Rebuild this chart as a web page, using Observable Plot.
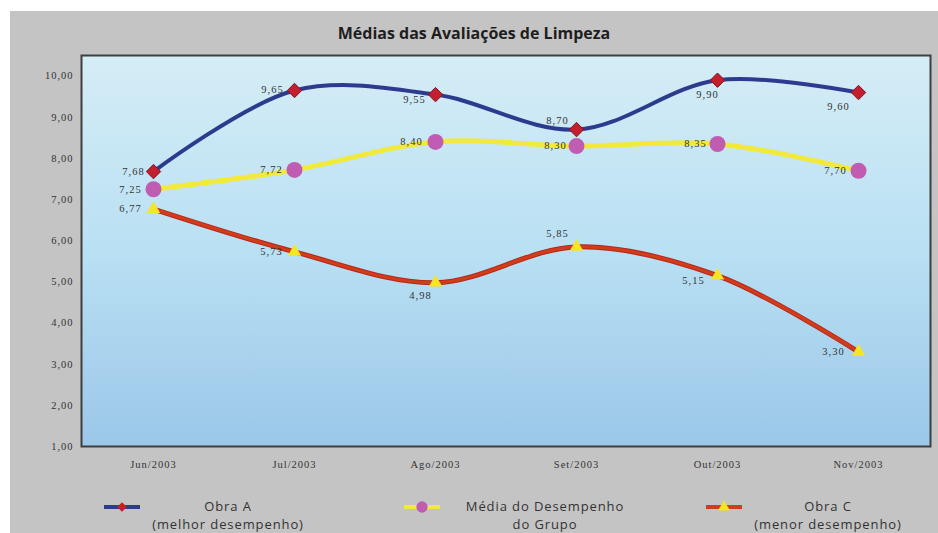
<!DOCTYPE html>
<html>
<head>
<meta charset="utf-8">
<script src="https://cdn.jsdelivr.net/npm/d3@7"></script>
<script src="https://cdn.jsdelivr.net/npm/@observablehq/plot@0.6"></script>
<style>
  html, body { margin: 0; padding: 0; background: #ffffff; }
  body { width: 938px; height: 533px; overflow: hidden; position: relative; font-family: "Open Sans", sans-serif; }
  #panel { position: absolute; left: 10px; top: 11px; width: 928px; height: 522px; background: #c4c4c4; overflow: hidden; }
  #title { position: absolute; left: 0; top: 10px; width: 928px; text-align: center; font-weight: bold; font-size: 16px; line-height: 24px; color: #1e1e1e; }
  #chart { position: absolute; left: 0; top: 30px; }
  .sw { position: absolute; }
  .lt { position: absolute; text-align: center; font-size: 13px; line-height: 18px; letter-spacing: 0.9px; color: #333; white-space: nowrap; transform: translateX(-50%); }
</style>
</head>
<body>
<div id="panel">
  <div id="title">Médias das Avaliações de Limpeza</div>
  <div id="chart"></div>
  <div id="legend"></div>
</div>
<script>
// ---- data ----
const months = ["Jun/2003", "Jul/2003", "Ago/2003", "Set/2003", "Out/2003", "Nov/2003"];
const obraA = [7.68, 9.65, 9.55, 8.70, 9.90, 9.60];
const mediaGrupo = [7.25, 7.72, 8.40, 8.30, 8.35, 7.70];
const obraC = [6.77, 5.73, 4.98, 5.85, 5.15, 3.30];
const yTicks = [1, 2, 3, 4, 5, 6, 7, 8, 9, 10];
const seriesNames = ["Obra A", "Média do Desempenho", "Obra C"];
const seriesSubNames = ["(melhor desempenho)", "do Grupo", "(menor desempenho)"];

// ---- style config (label offsets per point) ----
const offA = [[-20, 0], [-22, -1], [-21, 5], [-19, -9], [-10, 14], [-20, 14]];
const offM = [[-23, 0], [-23, 0], [-24, 0], [-21, 0], [-22, 0], [-23, 0]];
const offC = [[-23, 0], [-23, 0], [-15, 13], [-19, -13], [-24, 5], [-25, 0]];

const fmt = v => v.toFixed(2).replace(".", ",");
const rows = (vals, offs) => months.map((m, i) => ({ month: m, value: vals[i], dx: offs[i][0], dy: offs[i][1] }));
const dA = rows(obraA, offA), dM = rows(mediaGrupo, offM), dC = rows(obraC, offC);

const cBlue = "#2d3b8e", cYellow = "#f1e93c", cRed = "#d23c1a";
const cDiamond = "#c41f2e", cCircle = "#c05db3", cTri = "#f4e622";

function gradientDefs() {
  return () => {
    const defs = d3.create("svg:defs");
    const g = defs.append("linearGradient").attr("id", "bgGrad")
      .attr("x1", 0).attr("y1", 0).attr("x2", 0).attr("y2", 1);
    g.append("stop").attr("offset", "0%").attr("stop-color", "#d5edf6");
    g.append("stop").attr("offset", "50%").attr("stop-color", "#b9e0f3");
    g.append("stop").attr("offset", "100%").attr("stop-color", "#9bc7e9");
    return defs.node();
  };
}

function labels(data) {
  return data.map(d => Plot.text([d], {
    x: "month", y: "value", text: d => fmt(d.value),
    dx: d.dx, dy: d.dy, fill: "#333", fontSize: 10.5, fontFamily: "Liberation Serif"
  }));
}

const plot = Plot.plot({
  width: 928,
  height: 435,
  marginTop: 14,
  marginBottom: 30,
  marginLeft: 71,
  marginRight: 8,
  style: { background: "transparent", fontFamily: "Liberation Serif", fontSize: "10.5px", letterSpacing: "1px", color: "#333" },
  x: { type: "point", domain: months, padding: 0.5, tickSize: 0, tickPadding: 14, label: null },
  y: { domain: [1, 10.5], ticks: yTicks, tickFormat: fmt, tickSize: 0, tickPadding: 8, label: null },
  marks: [
    gradientDefs(),
    Plot.frame({ fill: "url(#bgGrad)", stroke: "#3e3e3e", strokeWidth: 2 }),
    Plot.line(dA, { x: "month", y: "value", stroke: cBlue, strokeWidth: 4, curve: "catmull-rom" }),
    Plot.line(dM, { x: "month", y: "value", stroke: cYellow, strokeWidth: 5, curve: "catmull-rom" }),
    Plot.line(dC, { x: "month", y: "value", stroke: "#b5281a", strokeWidth: 5, curve: "catmull-rom" }),
    Plot.line(dC, { x: "month", y: "value", stroke: cRed, strokeWidth: 3, curve: "catmull-rom" }),
    Plot.dot(dA, { x: "month", y: "value", symbol: "diamond2", r: 6.5, fill: cDiamond, stroke: "#7d1420", strokeWidth: 1 }),
    Plot.dot(dM, { x: "month", y: "value", symbol: "circle", r: 8, fill: cCircle }),
    Plot.dot(dC, { x: "month", y: "value", symbol: "triangle", r: 5, fill: cTri }),
    ...labels(dA), ...labels(dM), ...labels(dC)
  ]
});
document.getElementById("chart").appendChild(plot);

// ---- legend ----
const legend = d3.select("#legend");
const swatchX = [93, 393, 695];   // left of swatch in panel coords
const textX = [218, 535, 818];    // text centers in panel coords
const swatchY = 488;
const lineColors = [cBlue, cYellow, cRed];
const markerSym = [d3.symbolDiamond2, d3.symbolCircle, d3.symbolTriangle];
const markerFill = [cDiamond, cCircle, cTri];
seriesNames.forEach((name, i) => {
  const svg = legend.append("svg").attr("class", "sw")
    .style("left", swatchX[i] + "px").style("top", swatchY + "px")
    .attr("width", 40).attr("height", 16);
  svg.append("line").attr("x1", 1).attr("x2", 37).attr("y1", 8).attr("y2", 8)
    .attr("stroke", lineColors[i]).attr("stroke-width", 4);
  svg.append("path").attr("transform", "translate(19,8)")
    .attr("d", d3.symbol(markerSym[i], i === 1 ? 100 : 60)())
    .attr("fill", markerFill[i]);
  legend.append("div").attr("class", "lt")
    .style("left", textX[i] + "px").style("top", "486px")
    .html(name + "<br>" + seriesSubNames[i]);
});
</script>
</body>
</html>
